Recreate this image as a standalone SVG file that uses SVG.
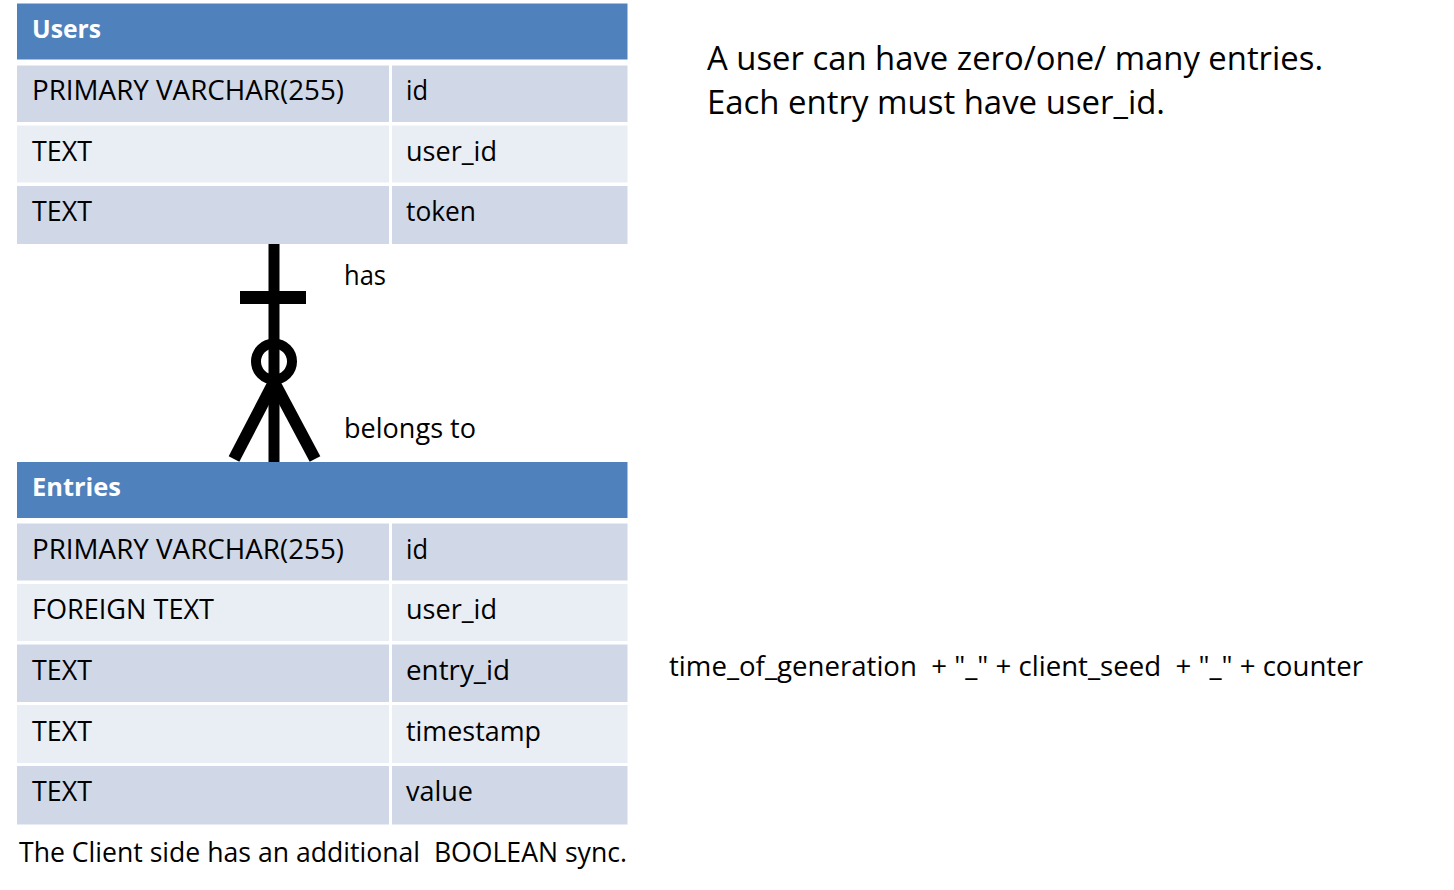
<svg xmlns="http://www.w3.org/2000/svg" width="1454" height="890" viewBox="0 0 1454 890">
<style>
  text { font-family: "Open Sans", "Noto Sans", "DejaVu Sans", sans-serif; fill: #000; }
  .hdr { fill: #4F81BD; }
  .dark { fill: #D0D8E8; }
  .light { fill: #E9EDF4; }
  .htxt { font-size: 25px; font-weight: bold; fill: #FFFFFF; }
  .cell { font-size: 27px; }
  .big { font-size: 32px; }
  .note { font-size: 27px; white-space: pre; }
  .sym { stroke: #000; fill: none; }
</style>
<rect width="1454" height="890" fill="#FFFFFF"/>

<g id="users">
  <rect class="hdr" x="17" y="3.5" width="610.5" height="56"/>
  <text class="htxt" x="32" y="37.5" textLength="69" lengthAdjust="spacingAndGlyphs">Users</text>
  <rect class="dark" x="17" y="65.5" width="372" height="56.5"/>
  <rect class="dark" x="392" y="65.5" width="235.5" height="56.5"/>
  <rect class="light" x="17" y="125.5" width="372" height="57"/>
  <rect class="light" x="392" y="125.5" width="235.5" height="57"/>
  <rect class="dark" x="17" y="186" width="372" height="58"/>
  <rect class="dark" x="392" y="186" width="235.5" height="58"/>
  <text class="cell" x="32" y="100" textLength="312" lengthAdjust="spacingAndGlyphs">PRIMARY VARCHAR(255)</text>
  <text class="cell" x="406" y="100" textLength="22" lengthAdjust="spacingAndGlyphs">id</text>
  <text class="cell" x="32" y="160.5" textLength="60" lengthAdjust="spacingAndGlyphs">TEXT</text>
  <text class="cell" x="406" y="160.5" textLength="91" lengthAdjust="spacingAndGlyphs">user_id</text>
  <text class="cell" x="32" y="221" textLength="60" lengthAdjust="spacingAndGlyphs">TEXT</text>
  <text class="cell" x="406" y="221" textLength="70" lengthAdjust="spacingAndGlyphs">token</text>
</g>

<g id="entries">
  <rect class="hdr" x="17" y="462" width="610.5" height="56"/>
  <text class="htxt" x="32" y="496" textLength="89" lengthAdjust="spacingAndGlyphs">Entries</text>
  <rect class="dark" x="17" y="523.5" width="372" height="57"/>
  <rect class="dark" x="392" y="523.5" width="235.5" height="57"/>
  <rect class="light" x="17" y="584" width="372" height="57"/>
  <rect class="light" x="392" y="584" width="235.5" height="57"/>
  <rect class="dark" x="17" y="644.5" width="372" height="57.5"/>
  <rect class="dark" x="392" y="644.5" width="235.5" height="57.5"/>
  <rect class="light" x="17" y="705" width="372" height="58"/>
  <rect class="light" x="392" y="705" width="235.5" height="58"/>
  <rect class="dark" x="17" y="766" width="372" height="58.5"/>
  <rect class="dark" x="392" y="766" width="235.5" height="58.5"/>
  <text class="cell" x="32" y="558.5" textLength="312" lengthAdjust="spacingAndGlyphs">PRIMARY VARCHAR(255)</text>
  <text class="cell" x="406" y="558.5" textLength="22" lengthAdjust="spacingAndGlyphs">id</text>
  <text class="cell" x="32" y="619" textLength="182" lengthAdjust="spacingAndGlyphs">FOREIGN TEXT</text>
  <text class="cell" x="406" y="619" textLength="91" lengthAdjust="spacingAndGlyphs">user_id</text>
  <text class="cell" x="32" y="680" textLength="60" lengthAdjust="spacingAndGlyphs">TEXT</text>
  <text class="cell" x="406" y="680" textLength="104" lengthAdjust="spacingAndGlyphs">entry_id</text>
  <text class="cell" x="32" y="740.5" textLength="60" lengthAdjust="spacingAndGlyphs">TEXT</text>
  <text class="cell" x="406" y="740.5" textLength="135" lengthAdjust="spacingAndGlyphs">timestamp</text>
  <text class="cell" x="32" y="801" textLength="60" lengthAdjust="spacingAndGlyphs">TEXT</text>
  <text class="cell" x="406" y="801" textLength="67" lengthAdjust="spacingAndGlyphs">value</text>
</g>

<g id="connectors">
  <line class="sym" x1="274" y1="244" x2="274" y2="462" stroke-width="11"/>
  <rect x="240" y="291" width="66" height="13" fill="#000"/>
  <circle class="sym" cx="274" cy="361.5" r="18" stroke-width="10"/>
  <line class="sym" x1="274" y1="382" x2="234" y2="459" stroke-width="12"/>
  <line class="sym" x1="274" y1="382" x2="315" y2="459" stroke-width="12"/>
  <text class="cell" x="344" y="285" textLength="42" lengthAdjust="spacingAndGlyphs">has</text>
  <text class="cell" x="344" y="438" textLength="132" lengthAdjust="spacingAndGlyphs">belongs to</text>
</g>

<g id="notes">
  <text class="big" x="707" y="70" textLength="616" lengthAdjust="spacingAndGlyphs">A user can have zero/one/ many entries.</text>
  <text class="big" x="707" y="114" textLength="458" lengthAdjust="spacingAndGlyphs">Each entry must have user_id.</text>
  <text class="note" xml:space="preserve" x="669" y="676" textLength="694" lengthAdjust="spacingAndGlyphs">time_of_generation  + "_" + client_seed  + "_" + counter</text>
  <text class="note" xml:space="preserve" x="19" y="862" textLength="608" lengthAdjust="spacingAndGlyphs">The Client side has an additional  BOOLEAN sync.</text>
</g>
</svg>
